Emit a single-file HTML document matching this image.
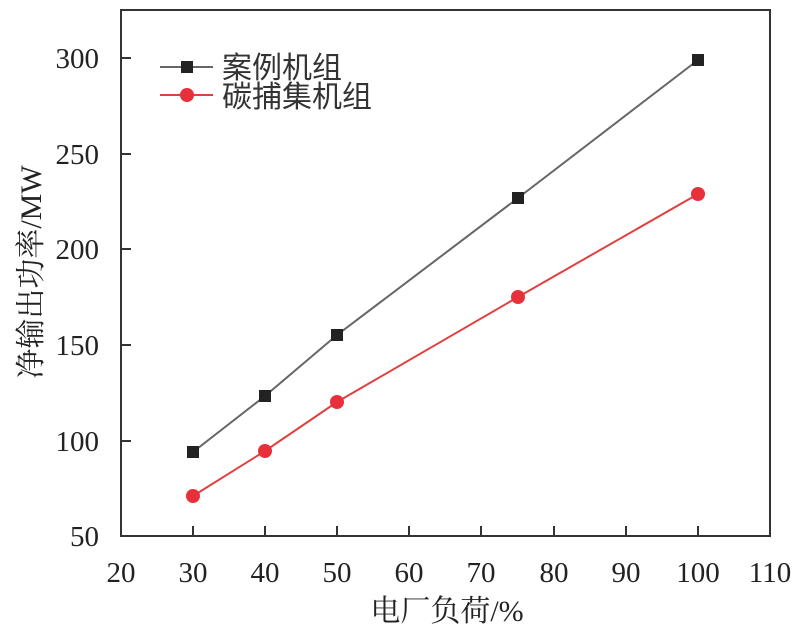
<!DOCTYPE html>
<html><head><meta charset="utf-8"><style>body{margin:0;background:#fff}
svg text{font-family:"Liberation Serif","Noto Serif CJK SC",serif;fill:#222}
.cj{font-family:"Liberation Serif","Noto Serif CJK SC",serif}
.lg{font-family:"Noto Sans CJK SC",sans-serif;fill:#333}
</style></head><body>
<svg width="802" height="631" viewBox="0 0 802 631" xmlns="http://www.w3.org/2000/svg">
<rect x="121" y="10" width="649" height="526" fill="none" stroke="#333" stroke-width="2"/>
<g stroke="#333" stroke-width="2">
<line x1="193" y1="536" x2="193" y2="526"/><line x1="265" y1="536" x2="265" y2="526"/><line x1="337" y1="536" x2="337" y2="526"/><line x1="409" y1="536" x2="409" y2="526"/><line x1="481" y1="536" x2="481" y2="526"/><line x1="554" y1="536" x2="554" y2="526"/><line x1="626" y1="536" x2="626" y2="526"/><line x1="698" y1="536" x2="698" y2="526"/>
<line x1="121" y1="441" x2="131" y2="441"/><line x1="121" y1="345" x2="131" y2="345"/><line x1="121" y1="249" x2="131" y2="249"/><line x1="121" y1="154" x2="131" y2="154"/><line x1="121" y1="58" x2="131" y2="58"/>
</g>
<g font-size="29" text-anchor="middle">
<text x="121" y="582">20</text><text x="193" y="582">30</text><text x="265" y="582">40</text><text x="337" y="582">50</text><text x="409" y="582">60</text><text x="481" y="582">70</text><text x="554" y="582">80</text><text x="626" y="582">90</text><text x="698" y="582">100</text><text x="770" y="582">110</text>
</g>
<g font-size="29" text-anchor="end">
<text x="99" y="546">50</text><text x="99" y="451">100</text><text x="99" y="355">150</text><text x="99" y="259">200</text><text x="99" y="164">250</text><text x="99" y="68">300</text>
</g>
<text class="cj" x="447" y="621" font-size="30" text-anchor="middle">电厂负荷/%</text>
<text class="cj" transform="translate(41,272) rotate(-90)" font-size="30" text-anchor="middle">净输出功率/MW</text>
<polyline points="193,452 265,396 337,335 518,198 698,60" fill="none" stroke="#666" stroke-width="2"/>
<polyline points="193,496 265,451 337,402 518,297 698,194" fill="none" stroke="#e04040" stroke-width="2"/>
<g fill="#222"><rect x="187" y="446" width="12" height="12"/><rect x="259" y="390" width="12" height="12"/><rect x="331" y="329" width="12" height="12"/><rect x="512" y="192" width="12" height="12"/><rect x="692" y="54" width="12" height="12"/></g>
<g fill="#e8303a"><circle cx="193" cy="496" r="7"/><circle cx="265" cy="451" r="7"/><circle cx="337" cy="402" r="7"/><circle cx="518" cy="297" r="7"/><circle cx="698" cy="194" r="7"/></g>
<line x1="160" y1="67" x2="213" y2="67" stroke="#666" stroke-width="2"/><rect x="181" y="61" width="12" height="12" fill="#222"/>
<line x1="160" y1="95" x2="213" y2="95" stroke="#e04040" stroke-width="2"/><circle cx="187" cy="95" r="7" fill="#e8303a"/>
<g font-size="30"><text class="lg" x="222" y="78">案例机组</text><text class="lg" x="222" y="107">碳捕集机组</text></g>
</svg>
</body></html>
